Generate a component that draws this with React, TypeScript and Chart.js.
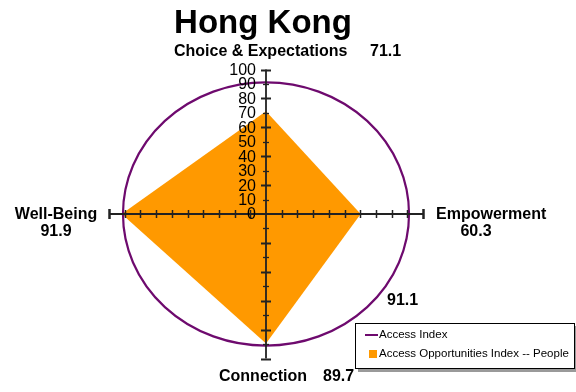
import React, { useEffect, useRef } from "react";
import { Chart, registerables } from "chart.js";

Chart.register(...registerables);

const title = "Hong Kong";
const categories = ["Choice & Expectations", "Empowerment", "Connection", "Well-Being"];
const peopleValues = [71.1, 60.3, 89.7, 91.9];
const accessIndex = 91.1;
const yTickValues = [0, 10, 20, 30, 40, 50, 60, 70, 80, 90, 100];
const seriesNames = ["Access Index", "Access Opportunities Index -- People"];

const PURPLE = "#6E0A6E";
const ORANGE = "#FF9900";
const AXIS = "#222222";
const FONT = "'Liberation Sans', Arial, sans-serif";

// unit directions for top, right, bottom, left
const dirs = [
  [0, 1],
  [1, 0],
  [0, -1],
  [-1, 0],
];

const polygon = [...peopleValues, peopleValues[0]].map((v, i) => {
  const d = dirs[i % 4];
  return { x: d[0] * v, y: d[1] * v };
});

const overlay = {
  id: "overlay",
  afterDatasetsDraw(chart: any) {
    const ctx = chart.ctx as CanvasRenderingContext2D;
    const xs = chart.scales.x;
    const ys = chart.scales.y;
    const cx = xs.getPixelForValue(0);
    const cy = ys.getPixelForValue(0);
    ctx.save();

    // Access Index circle
    const rx = xs.getPixelForValue(accessIndex) - cx;
    const ry = cy - ys.getPixelForValue(accessIndex);
    ctx.beginPath();
    ctx.ellipse(cx, cy, rx, ry, 0, 0, Math.PI * 2);
    ctx.strokeStyle = PURPLE;
    ctx.lineWidth = 2.2;
    ctx.stroke();

    // axes
    ctx.strokeStyle = AXIS;
    ctx.lineWidth = 1.8;
    const xl = xs.getPixelForValue(-100);
    const xr = xs.getPixelForValue(100);
    const yt = ys.getPixelForValue(100);
    const yb = ys.getPixelForValue(-100);
    ctx.beginPath();
    ctx.moveTo(xl, cy);
    ctx.lineTo(xr, cy);
    ctx.moveTo(cx, yt);
    ctx.lineTo(cx, yb);
    ctx.stroke();

    // x ticks
    for (let v = -100; v <= 100; v += 10) {
      if (v === 0) continue;
      const px = Math.round(xs.getPixelForValue(v)) + 0.5;
      const end = Math.abs(v) === 100;
      ctx.lineWidth = end ? 2.5 : 1.5;
      ctx.beginPath();
      ctx.moveTo(px, cy - (end ? 5 : 4));
      ctx.lineTo(px, cy + (end ? 5 : 4));
      ctx.stroke();
    }
    // y ticks
    for (let v = -100; v <= 100; v += 10) {
      if (v === 0) continue;
      const py = Math.round(ys.getPixelForValue(v)) + 0.5;
      const end = Math.abs(v) === 100;
      const major = Math.abs(v) % 20 === 0;
      ctx.lineWidth = end || major ? 2 : 1.3;
      const half = end ? 5 : major ? 5 : 3;
      ctx.beginPath();
      ctx.moveTo(cx - half, py);
      ctx.lineTo(cx + half, py);
      ctx.stroke();
    }

    // y tick labels
    ctx.fillStyle = "#000";
    ctx.font = `16px ${FONT}`;
    ctx.textAlign = "right";
    ctx.textBaseline = "middle";
    yTickValues.forEach((v) => {
      ctx.fillText(String(v), cx - 10, ys.getPixelForValue(v) + 1);
    });

    // title
    ctx.textAlign = "center";
    ctx.textBaseline = "alphabetic";
    ctx.font = `bold 33px ${FONT}`;
    ctx.fillText(title, 263, 33);

    // category labels
    ctx.font = `bold 16px ${FONT}`;
    ctx.textBaseline = "middle";
    ctx.textAlign = "left";
    ctx.fillText(categories[0], 174, 52);
    ctx.fillText(peopleValues[0].toFixed(1), 370, 52);

    ctx.fillText(categories[1], 436, 215);
    ctx.textAlign = "center";
    ctx.fillText(peopleValues[1].toFixed(1), 476, 232);

    ctx.textAlign = "left";
    ctx.fillText(categories[2], 219, 377);
    ctx.fillText(peopleValues[2].toFixed(1), 323, 377);

    ctx.textAlign = "center";
    ctx.fillText(categories[3], 56, 215);
    ctx.fillText(peopleValues[3].toFixed(1), 56, 232);

    ctx.textAlign = "left";
    ctx.fillText(accessIndex.toFixed(1), 387, 301);

    // legend
    ctx.fillStyle = "#9a9a9a";
    ctx.fillRect(358, 326, 219, 46);
    ctx.fillStyle = "#fff";
    ctx.fillRect(355.5, 323.5, 219, 45);
    ctx.strokeStyle = "#000";
    ctx.lineWidth = 1;
    ctx.strokeRect(355.5, 323.5, 219, 45);

    ctx.strokeStyle = PURPLE;
    ctx.lineWidth = 2;
    ctx.beginPath();
    ctx.moveTo(365, 335);
    ctx.lineTo(378, 335);
    ctx.stroke();
    ctx.fillStyle = ORANGE;
    ctx.fillRect(369, 350, 8, 8);

    ctx.fillStyle = "#000";
    ctx.font = `11.5px ${FONT}`;
    ctx.textAlign = "left";
    ctx.textBaseline = "middle";
    ctx.fillText(seriesNames[0], 379, 335);
    ctx.fillText(seriesNames[1], 379, 354);

    ctx.restore();
  },
};

export default function App() {
  const ref = useRef<HTMLCanvasElement | null>(null);
  useEffect(() => {
    if (!ref.current) return;
    const chart = new Chart(ref.current, {
      type: "scatter",
      data: {
        datasets: [
          {
            label: seriesNames[1],
            data: polygon,
            showLine: true,
            fill: "shape" as any,
            backgroundColor: ORANGE,
            borderColor: ORANGE,
            borderWidth: 0,
            pointRadius: 0,
            tension: 0,
          } as any,
        ],
      },
      options: {
        animation: false,
        responsive: false,
        devicePixelRatio: 1,
        layout: { padding: { left: 109, right: 153, top: 69.5, bottom: 33.5 } },
        plugins: {
          legend: { display: false },
          tooltip: { enabled: false },
          title: { display: false },
        },
        scales: {
          x: { type: "linear", min: -100, max: 100, display: false },
          y: { type: "linear", min: -100, max: 100, display: false },
        },
      },
      plugins: [overlay],
    });
    return () => chart.destroy();
  }, []);
  return (
    <div style={{ position: "fixed", left: 0, top: 0, width: 576, height: 392, background: "#fff" }}>
      <canvas ref={ref} width={576} height={392} style={{ width: 576, height: 392 }} />
    </div>
  );
}
